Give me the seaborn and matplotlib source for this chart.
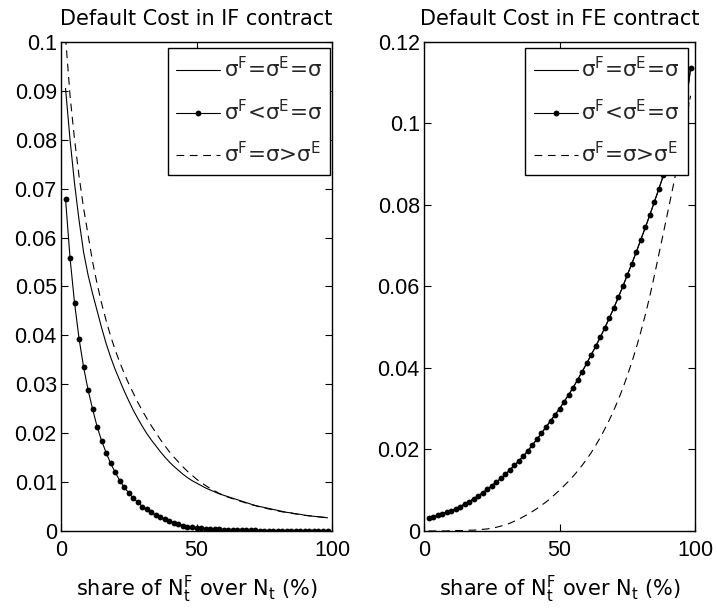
import numpy as np
import pandas as pd
import matplotlib
matplotlib.use("Agg")
import matplotlib.pyplot as plt
import seaborn as sns

# share of N^F_t over N_t (%), evaluated on a 1/60 grid
share = np.arange(1, 60) * 100.0 / 60.0

# ---- Default cost in IF contract ----
if_equal = [0.0905, 0.0800, 0.0710, 0.0635, 0.0570, 0.0523, 0.0485, 0.0450, 0.0415, 0.0383,
            0.0355, 0.0330, 0.0308, 0.0286, 0.0266, 0.0247, 0.0230, 0.0214, 0.0199, 0.0186,
            0.0174, 0.0162, 0.0151, 0.0141, 0.0132, 0.0124, 0.0116, 0.0109, 0.0103, 0.0098,
            0.0093, 0.0088, 0.0084, 0.0080, 0.0076, 0.0073, 0.0070, 0.0067, 0.0064, 0.0061,
            0.0058, 0.0055, 0.0052, 0.0050, 0.0048, 0.0046, 0.0044, 0.0042, 0.0040, 0.0038,
            0.0037, 0.0035, 0.0034, 0.0032, 0.0031, 0.0030, 0.0029, 0.0028, 0.0027]
if_low_f = [0.0679, 0.0558, 0.0466, 0.0393, 0.0335, 0.0288, 0.0249, 0.0213, 0.0184, 0.0160,
            0.0138, 0.0120, 0.0103, 0.0089, 0.0078, 0.0067, 0.0059, 0.0050, 0.0044, 0.0038,
            0.0032, 0.0028, 0.0024, 0.0020, 0.0017, 0.0014, 0.0011, 0.0009, 0.0008, 0.0007,
            0.0006, 0.0005, 0.00045, 0.0004, 0.00035, 0.0003, 0.00025, 0.0002, 0.00018, 0.00015,
            0.00013, 0.00011, 0.0001, 0.00008, 0.00007, 0.00006, 0.00005, 0.00004, 0.00004, 0.00003,
            0.00003, 0.00002, 0.00002, 0.00002, 0.00001, 0.00001, 0.00001, 0.00001, 0.00001]
if_high_f = [0.1010, 0.0890, 0.0800, 0.0725, 0.0660, 0.0605, 0.0550, 0.0505, 0.0465, 0.0430,
             0.0398, 0.0370, 0.0345, 0.0322, 0.0301, 0.0282, 0.0263, 0.0246, 0.0230, 0.0215,
             0.0201, 0.0187, 0.0174, 0.0162, 0.0151, 0.0141, 0.0131, 0.0122, 0.0114, 0.0106,
             0.0099, 0.0093, 0.0087, 0.0082, 0.0077, 0.0073, 0.0069, 0.0066, 0.0063, 0.0060,
             0.0057, 0.0054, 0.0052, 0.0049, 0.0047, 0.0045, 0.0043, 0.0041, 0.0039, 0.0038,
             0.0036, 0.0035, 0.0033, 0.0032, 0.0031, 0.0030, 0.0029, 0.0028, 0.0027]

# ---- Default cost in FE contract ----
fe_equal = [0.0031, 0.0035, 0.0038, 0.0042, 0.0046, 0.0050, 0.0055, 0.0060, 0.0066, 0.0072,
            0.0079, 0.0086, 0.0094, 0.0102, 0.0111, 0.0120, 0.0129, 0.0139, 0.0150, 0.0161,
            0.0172, 0.0184, 0.0197, 0.0211, 0.0225, 0.0240, 0.0255, 0.0270, 0.0285, 0.0300,
            0.0317, 0.0334, 0.0352, 0.0371, 0.0391, 0.0411, 0.0432, 0.0453, 0.0475, 0.0498,
            0.0522, 0.0547, 0.0573, 0.0600, 0.0628, 0.0656, 0.0685, 0.0715, 0.0745, 0.0776,
            0.0808, 0.0840, 0.0873, 0.0907, 0.0942, 0.0977, 0.1013, 0.1050, 0.1135]
fe_low_f = list(fe_equal)
fe_high_f = [0.0000, 0.0000, 0.0000, 0.0000, 0.0000, 0.0001, 0.0001, 0.0001, 0.0001, 0.0002,
             0.0002, 0.0003, 0.0004, 0.0005, 0.0007, 0.0009, 0.0012, 0.0015, 0.0019, 0.0024,
             0.0029, 0.0035, 0.0041, 0.0048, 0.0055, 0.0063, 0.0071, 0.0080, 0.0090, 0.0100,
             0.0111, 0.0122, 0.0134, 0.0147, 0.0161, 0.0176, 0.0192, 0.0210, 0.0229, 0.0250,
             0.0272, 0.0296, 0.0322, 0.0350, 0.0381, 0.0414, 0.0450, 0.0489, 0.0531, 0.0577,
             0.0627, 0.0680, 0.0732, 0.0785, 0.0838, 0.0893, 0.0950, 0.1008, 0.1068]

titles = ["Default Cost in IF contract", "Default Cost in FE contract"]
legend_labels = [r"σ$^{\mathregular{F}}$=σ$^{\mathregular{E}}$=σ",
                 r"σ$^{\mathregular{F}}$<σ$^{\mathregular{E}}$=σ",
                 r"σ$^{\mathregular{F}}$=σ>σ$^{\mathregular{E}}$"]
xlabel = r"share of N$^{\mathregular{F}}_{\mathregular{t}}$ over N$_{\mathregular{t}}$ (%)"
xticks = [0, 50, 100]
xtick_labels = ["0", "50", "100"]
if_yticks = [0, 0.01, 0.02, 0.03, 0.04, 0.05, 0.06, 0.07, 0.08, 0.09, 0.1]
if_ytick_labels = ["0", "0.01", "0.02", "0.03", "0.04", "0.05", "0.06", "0.07", "0.08", "0.09", "0.1"]
fe_yticks = [0, 0.02, 0.04, 0.06, 0.08, 0.1, 0.12]
fe_ytick_labels = ["0", "0.02", "0.04", "0.06", "0.08", "0.1", "0.12"]

sns.set_theme(style="white")
plt.rcParams["font.family"] = ["DejaVu Sans"]
plt.rcParams["mathtext.fontset"] = "dejavusans"
plt.rcParams["axes.unicode_minus"] = False

fig = plt.figure(figsize=(7.17, 6.12), dpi=100)
ax_if = fig.add_axes([0.0851, 0.1324, 0.3780, 0.7990])
ax_fe = fig.add_axes([0.5914, 0.1324, 0.3780, 0.7990])

LW = 0.8
dash = (0, (7, 5))
TICK_FONT = {"family": "Liberation Sans", "size": 15.5}


def draw(ax, y_eq, y_low, y_high, yticks, ylabels, ymax, title, leg_anchor):
    df = pd.DataFrame({"share": share, "eq": y_eq, "low": y_low, "high": y_high})
    sns.lineplot(data=df, x="share", y="eq", ax=ax, color="black", lw=LW,
                 label=legend_labels[0])
    sns.lineplot(data=df, x="share", y="low", ax=ax, color="black", lw=LW,
                 marker="o", markersize=4.2, markeredgewidth=0, label=legend_labels[1])
    sns.lineplot(data=df, x="share", y="high", ax=ax, color="black", lw=LW,
                 linestyle=dash, label=legend_labels[2])
    ax.set_xlim(0, 100)
    ax.set_ylim(0, ymax)
    ax.set_xticks(xticks)
    ax.set_xticklabels(xtick_labels, fontdict=TICK_FONT)
    ax.set_yticks(yticks)
    ax.set_yticklabels(ylabels, fontdict=TICK_FONT)
    ax.tick_params(direction="in", length=5, width=0.8, color="black",
                   top=True, right=True, bottom=True, left=True, labelcolor="black")
    ax.tick_params(axis="x", pad=6.5)
    ax.tick_params(axis="y", pad=3)
    for sp in ax.spines.values():
        sp.set_color("black")
        sp.set_linewidth(1.0)
        sp.set_visible(True)
    ax.set_xlabel(xlabel, fontsize=15, labelpad=9, color="black")
    ax.set_ylabel("")
    ax.set_title(title, fontsize=15, pad=12, color="black")
    ax.grid(False)
    leg = ax.legend(loc="upper right", bbox_to_anchor=leg_anchor, fontsize=15.5,
                    frameon=True, fancybox=False, borderaxespad=0.0,
                    handlelength=2.05, handletextpad=0.15, labelspacing=0.8,
                    borderpad=0.4)
    leg.get_frame().set_edgecolor("black")
    leg.get_frame().set_linewidth(1.0)
    leg.get_frame().set_alpha(1.0)


draw(ax_if, if_equal, if_low_f, if_high_f, if_yticks, if_ytick_labels, 0.1, titles[0],
     (0.993, 0.988))
draw(ax_fe, fe_equal, fe_low_f, fe_high_f, fe_yticks, fe_ytick_labels, 0.12, titles[1],
     (0.974, 0.988))

fig.savefig("out.png", dpi=100, facecolor="white")
